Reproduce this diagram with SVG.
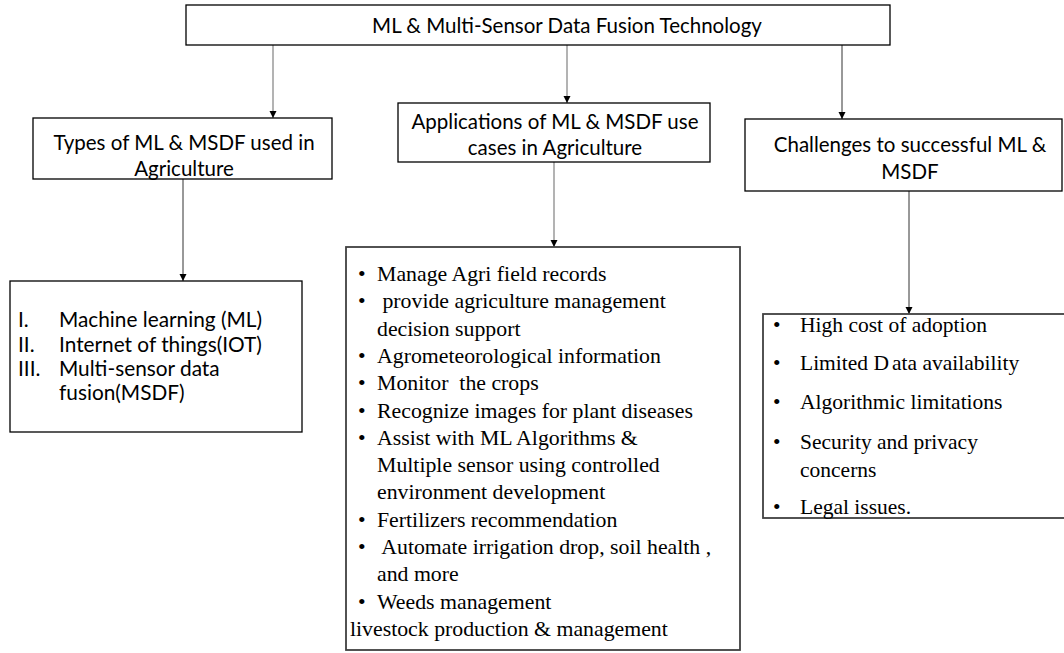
<svg xmlns="http://www.w3.org/2000/svg" width="1064" height="653" viewBox="0 0 1064 653">
<style>
.box{fill:#fff;stroke:#000;stroke-width:1.3}
.lbox{fill:#fff;stroke:#404040;stroke-width:1.8}
.h{font-family:Lato,"Open Sans",sans-serif;font-size:20.5px;fill:#000;text-anchor:middle}
.li{font-family:Lato,"Open Sans",sans-serif;font-size:20.8px;fill:#000}
.t{font-family:"Liberation Serif","Times New Roman",serif;font-size:21.8px;fill:#000;white-space:pre}
.r{font-family:"Liberation Serif","Times New Roman",serif;font-size:21.5px;fill:#000;white-space:pre}
.c{fill:none;stroke:#808080;stroke-width:1.2}
.cd{fill:none;stroke:#333;stroke-width:1}
</style>
<defs>
<marker id="ah" markerWidth="8" markerHeight="8" refX="7" refY="4" orient="auto" markerUnits="userSpaceOnUse">
<path d="M0,0.5 L7,4 L0,7.5 Z" fill="#000"/>
</marker>
</defs>
<g id="connectors">
<line class="c" x1="273" y1="45" x2="273" y2="118" marker-end="url(#ah)"/>
<line class="c" x1="567" y1="45" x2="567" y2="103" marker-end="url(#ah)"/>
<line class="cd" x1="842" y1="45" x2="842" y2="119" marker-end="url(#ah)"/>
<line class="cd" x1="183" y1="179" x2="183" y2="281" marker-end="url(#ah)"/>
<line class="c" x1="554" y1="162" x2="554" y2="247" marker-end="url(#ah)"/>
<line class="cd" x1="909" y1="191" x2="909" y2="314" marker-end="url(#ah)"/>
</g>
<g id="root">
<rect class="box" x="186" y="5" width="704" height="40"/>
<text class="h" x="567" y="33">ML &amp; Multi-Sensor Data Fusion Technology</text>
</g>
<g id="types">
<rect class="box" x="33" y="118" width="299" height="61"/>
<text class="h" x="184" y="150">Types of ML &amp; MSDF used in</text>
<text class="h" x="184" y="176">Agriculture</text>
</g>
<g id="applications">
<rect class="box" x="398" y="103" width="312" height="59"/>
<text class="h" x="555" y="129">Applications of ML &amp; MSDF use</text>
<text class="h" x="555" y="155">cases in Agriculture</text>
</g>
<g id="challenges">
<rect class="box" x="745" y="119" width="317" height="72"/>
<text class="h" x="910" y="152">Challenges to successful ML &amp;</text>
<text class="h" x="910" y="179">MSDF</text>
</g>
<g id="types-list">
<rect class="box" x="10" y="281" width="292" height="151"/>
<text class="li" x="18" y="327">I.</text><text class="li" x="59" y="327">Machine learning (ML)</text>
<text class="li" x="18" y="352">II.</text><text class="li" x="59" y="352">Internet of things(IOT)</text>
<text class="li" x="18" y="376">III.</text><text class="li" x="59" y="376">Multi-sensor data</text>
<text class="li" x="59" y="400">fusion(MSDF)</text>
</g>
<g id="applications-list">
<rect class="lbox" x="346" y="247" width="394" height="403"/>
<text class="t" x="358" y="281">•</text><text class="t" x="377" y="281">Manage Agri field records</text>
<text class="t" x="358" y="308">•</text><text class="t" x="377" y="308"> provide agriculture management</text>
<text class="t" x="377" y="336">decision support</text>
<text class="t" x="358" y="363">•</text><text class="t" x="377" y="363">Agrometeorological information</text>
<text class="t" x="358" y="390">•</text><text class="t" x="377" y="390">Monitor  the crops</text>
<text class="t" x="358" y="418">•</text><text class="t" x="377" y="418">Recognize images for plant diseases</text>
<text class="t" x="358" y="445">•</text><text class="t" x="377" y="445">Assist with ML Algorithms &amp;</text>
<text class="t" x="377" y="472">Multiple sensor using controlled</text>
<text class="t" x="377" y="499">environment development</text>
<text class="t" x="358" y="527">•</text><text class="t" x="377" y="527">Fertilizers recommendation</text>
<text class="t" x="358" y="554">•</text><text class="t" x="377" y="554"> Automate irrigation drop, soil health ,</text>
<text class="t" x="377" y="581">and more</text>
<text class="t" x="358" y="609">•</text><text class="t" x="377" y="609">Weeds management</text>
<text class="t" x="350" y="636">livestock production &amp; management</text>
</g>
<g id="challenges-list">
<rect class="lbox" x="763" y="314" width="310" height="204"/>
<text class="r" x="773" y="332">•</text><text class="r" x="800" y="332">High cost of adoption</text>
<text class="r" x="773" y="370">•</text><text class="r" x="800" y="370">Limited D<tspan dx="3">ata availability</tspan></text>
<text class="r" x="773" y="409">•</text><text class="r" x="800" y="409">Algorithmic limitations</text>
<text class="r" x="773" y="449">•</text><text class="r" x="800" y="449">Security and privacy</text>
<text class="r" x="800" y="477">concerns</text>
<text class="r" x="773" y="514">•</text><text class="r" x="800" y="514">Legal issues.</text>
</g>
</svg>
